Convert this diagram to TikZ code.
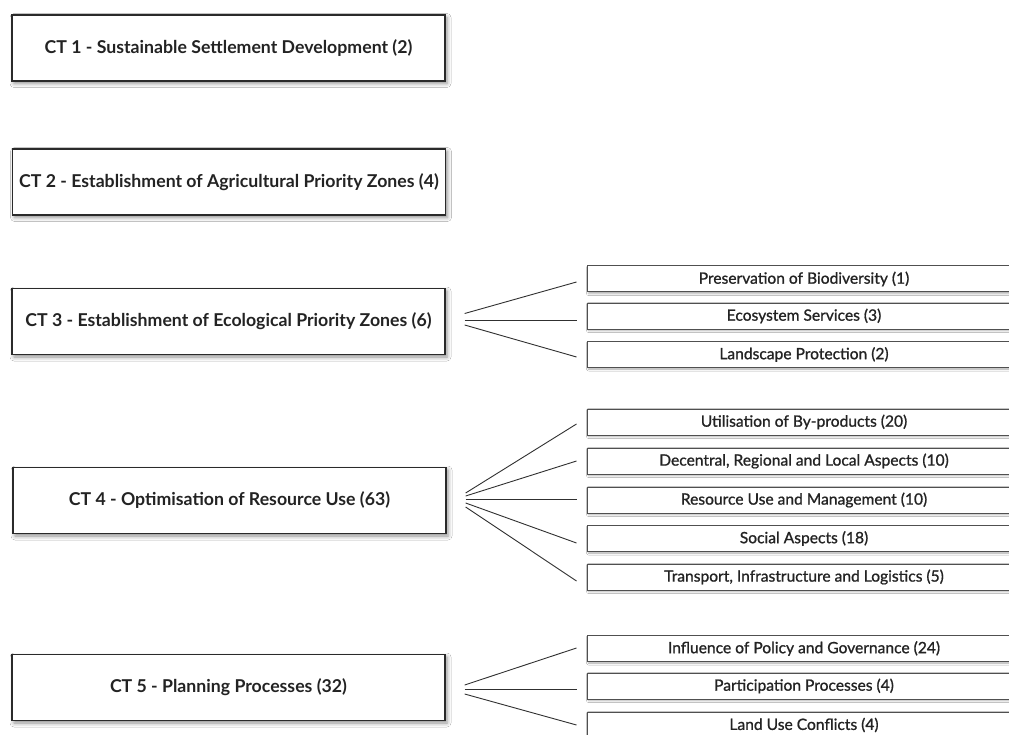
\documentclass[tikz,border=0pt]{standalone}
\usepackage{fontspec}
\setmainfont{Lato}
\newfontfamily\subfont{Lato}[FakeBold=1.0]
\usetikzlibrary{shadows.blur}
\definecolor{ink}{HTML}{232323}
\definecolor{edge}{HTML}{2A2A2A}
\definecolor{subedge}{HTML}{505050}
\definecolor{wire}{HTML}{303030}
\tikzset{
  ctbox/.style={draw=edge, line width=1.3pt, fill=white, minimum width=433pt, minimum height=66pt,
    inner sep=0pt, text=ink, font=\fontsize{17.7}{20}\selectfont\bfseries,
    blur shadow={shadow xshift=2pt, shadow yshift=-2.5pt, shadow blur radius=4pt, shadow opacity=45}},
  subbox/.style={draw=subedge, line width=1pt, fill=white, minimum width=434pt, minimum height=26pt,
    inner sep=0pt, text=ink, font=\subfont\fontsize{15.6}{18}\selectfont,
    blur shadow={shadow xshift=1.5pt, shadow yshift=-1.5pt, shadow blur radius=2pt, shadow opacity=35}},
  wireline/.style={draw=wire, line width=0.9pt}
}
\begin{document}
\begin{tikzpicture}[x=1pt,y=-1pt]
\useasboundingbox (0,0) rectangle (1009,735);
\clip (0,0) rectangle (1009,735);
\fill[white] (0,0) rectangle (1009,735);
% main topics
\node[ctbox] (ct1) at (228.5,48) {CT 1 - Sustainable Settlement Development (2)};
\node[ctbox] (ct2) at (229,182) {CT 2 - Establishment of Agricultural Priority Zones (4)};
\node[ctbox] (ct3) at (228.5,321.5) {CT 3 - Establishment of Ecological Priority Zones (6)};
\node[ctbox] (ct4) at (229.5,500.5) {CT 4 - Optimisation of Resource Use (63)};
\node[ctbox] (ct5) at (228.5,687.5) {CT 5 - Planning Processes (32)};
% sub topics
\node[subbox] (s31) at (804,279) {Preservation of Biodiversity (1)};
\node[subbox] (s32) at (804,316) {Ecosystem Services (3)};
\node[subbox] (s33) at (804,354.5) {Landscape Protection (2)};
\node[subbox] (s41) at (804,422) {Utilisation of By-products (20)};
\node[subbox] (s42) at (804,461) {Decentral, Regional and Local Aspects (10)};
\node[subbox] (s43) at (804,500) {Resource Use and Management (10)};
\node[subbox] (s44) at (804,538.5) {Social Aspects (18)};
\node[subbox] (s45) at (804,577) {Transport, Infrastructure and Logistics (5)};
\node[subbox] (s51) at (804,648.5) {Influence of Policy and Governance (24)};
\node[subbox] (s52) at (804,686) {Participation Processes (4)};
\node[subbox] (s53) at (804,725) {Land Use Conflicts (4)};
% connectors
\draw[wireline] ([xshift=19pt,yshift=8pt]ct3.east) -- ([xshift=-10pt,yshift=-3pt]s31.west);
\draw[wireline] ([xshift=19pt,yshift=1.5pt]ct3.east) -- ([xshift=-10pt,yshift=-4pt]s32.west);
\draw[wireline] ([xshift=19pt,yshift=-3.5pt]ct3.east) -- ([xshift=-10pt,yshift=-2.5pt]s33.west);
\draw[wireline] ([xshift=19pt,yshift=7.5pt]ct4.east) -- ([xshift=-10pt,yshift=-2pt]s41.west);
\draw[wireline] ([xshift=19pt,yshift=4.5pt]ct4.east) -- ([xshift=-10pt,yshift=0pt]s42.west);
\draw[wireline] ([xshift=19pt,yshift=1.5pt]ct4.east) -- ([xshift=-10pt,yshift=1pt]s43.west);
\draw[wireline] ([xshift=19pt,yshift=-2.5pt]ct4.east) -- ([xshift=-10pt,yshift=-4.5pt]s44.west);
\draw[wireline] ([xshift=19pt,yshift=-6.5pt]ct4.east) -- ([xshift=-10pt,yshift=-4pt]s45.west);
\draw[wireline] ([xshift=19pt,yshift=2.5pt]ct5.east) -- ([xshift=-10pt,yshift=0.5pt]s51.west);
\draw[wireline] ([xshift=19pt,yshift=-1.5pt]ct5.east) -- ([xshift=-10pt,yshift=-3pt]s52.west);
\draw[wireline] ([xshift=19pt,yshift=-6.5pt]ct5.east) -- ([xshift=-10pt,yshift=0pt]s53.west);
\end{tikzpicture}
\end{document}
